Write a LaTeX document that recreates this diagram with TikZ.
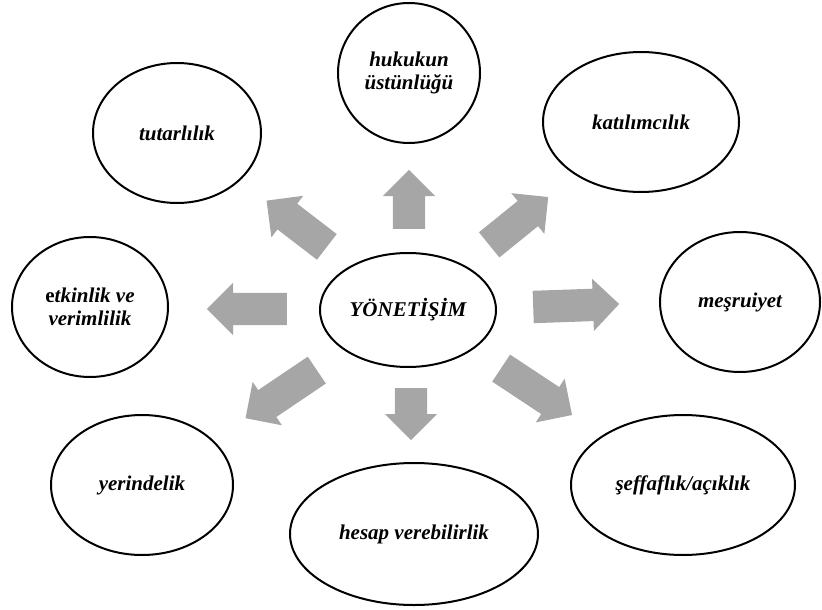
\documentclass[tikz,border=0pt]{standalone}
\usepackage{fontspec}
\setmainfont{Liberation Serif}
\usetikzlibrary{shapes.geometric,shapes.arrows}
\definecolor{arrowgray}{RGB}{166,166,166}
\tikzset{
  bubble/.style={ellipse, draw=black, line width=2pt, inner sep=0pt, minimum height=140pt,
    align=center, font=\fontsize{21}{23}\selectfont\bfseries\itshape},
  grayarrow/.style={single arrow, fill=arrowgray, draw=none, inner xsep=0pt, inner ysep=16pt,
    single arrow head extend=10pt, anchor=tail}
}
\begin{document}
\begin{tikzpicture}[x=1pt,y=-1pt]
  \useasboundingbox (0,0) rectangle (822,610);
  % middle
  \node[bubble, minimum width=176pt, minimum height=114pt] (gov) at (408,310) {Y\"ONET\.I\c{S}\.IM};
  % outer ring
  \node[bubble, minimum width=142pt] (hukuk) at (409,73) {hukukun\\\"ust\"unl\"u\u{g}\"u};
  \node[bubble, minimum width=196pt] (katilim) at (641,122) {kat\i l\i mc\i l\i k};
  \node[bubble, minimum width=160pt] (mesru) at (740,302) {me\c{s}ruiyet};
  \node[bubble, minimum width=224pt] (seffaf) at (683,485) {\c{s}effafl\i k/a\c{c}\i kl\i k};
  \node[bubble, minimum width=248pt, minimum height=142pt] (hesap) at (414,534) {hesap verebilirlik};
  \node[bubble, minimum width=182pt] (yerinde) at (142,485) {yerindelik};
  \node[bubble, minimum width=156pt] (etkin) at (90,307) {{\upshape e}tkinlik ve\\verimlilik};
  \node[bubble, minimum width=168pt] (tutar) at (177,133) {tutarl\i l\i k};
  % arrows: tail x, tail y, direction, length
  \foreach \tx/\ty/\ang/\len/\nm in {409/229/90/59/up, 411/388/-90/52/down,
      287/309/180/80/left, 533/307/2/86/right, 489/245/39/76/upright,
      501/368/-33.5/85/downright, 327/247/142.5/76/upleft, 317/370/214/86/downleft}
    \node[grayarrow, rotate=\ang, minimum height=\len pt] (arr-\nm) at (\tx,\ty) {};
\end{tikzpicture}
\end{document}
